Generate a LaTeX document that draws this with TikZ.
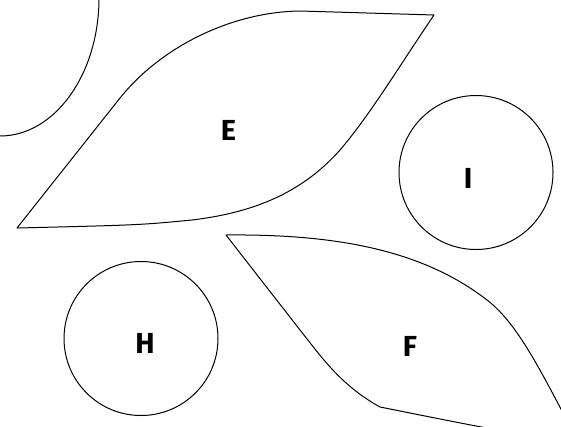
\documentclass[tikz,border=0pt]{standalone}
\usepackage{fontspec}
\setsansfont{Fira Sans}
\begin{document}
\begin{tikzpicture}[x=1pt,y=-1pt,
  edge/.style={draw=black,line width=1pt,line join=round},
  circ/.style={edge,circle,minimum size=154pt,inner sep=0pt},
  lbl/.style={font=\sffamily\bfseries\fontsize{29}{30}\selectfont,inner sep=0pt,anchor=center}]
\useasboundingbox (0,0) rectangle (561,426);
\clip (0,0) rectangle (561,426);
% top-left partial shape
\draw[edge] (99,-2) arc[start angle=0,end angle=90,x radius=99,y radius=138];
% E leaf
\draw[edge] (17,228) -- (120,98) .. controls (160,48) and (230,12) .. (300,11)
  -- (434,15) .. controls (400,65) and (370,115) .. (340,150)
  .. controls (300,195) and (250,213) .. (192,220) .. controls (140,225) .. (17,228) -- cycle;
% F leaf
\draw[edge] (226,235) .. controls (330,234) and (420,248) .. (487,300)
  .. controls (520,325) and (545,380) .. (580,445)
  -- (520,434) .. controls (470,425) .. (380,407)
  .. controls (340,385) and (320,355) .. (300,330) -- cycle;
% circles
\node[circ] (I) at (476,172.5) {};
\node[circ] (H) at (141,338.5) {};
% labels
\node[lbl] (lE) at (228.5,130.5) {E};
\node[lbl] (lF) at (410,346) {F};
\node[lbl] (lH) at (145,343.5) {H};
\node[lbl] (lI) at (468,178) {I};
\end{tikzpicture}
\end{document}
